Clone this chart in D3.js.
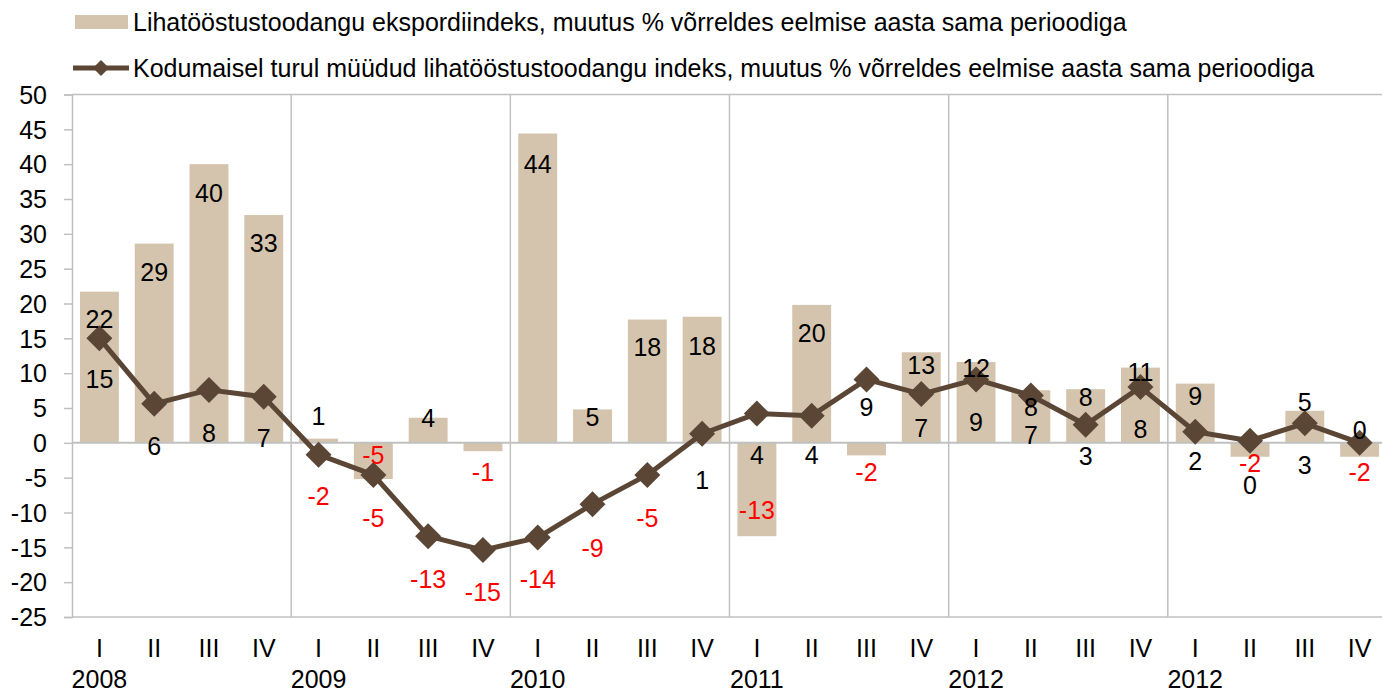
<!DOCTYPE html>
<html>
<head>
<meta charset="utf-8">
<script src="https://cdn.jsdelivr.net/npm/d3@7"></script>
<style>
  body { margin: 0; background: #fff; }
  svg { display: block; font-family: Arial, "Liberation Sans", sans-serif; }
</style>
</head>
<body>
<div id="chart"></div>
<script>
// andmed
var years = ["2008", "2009", "2010", "2011", "2012", "2012"];
var quarterNames = ["I", "II", "III", "IV"];
var exportIndex = [21.7, 28.6, 40.0, 32.7, 0.6, -5.2, 3.6, -1.2, 44.4, 4.8, 17.7, 18.1,
                   -13.4, 19.8, -1.8, 13.0, 11.6, 7.55, 7.7, 10.8, 8.5, -2.0, 4.6, -2.0];
var domesticIndex = [15.0, 5.6, 7.6, 6.6, -1.7, -4.6, -13.4, -15.4, -13.6, -8.8, -4.6, 1.3,
                     4.2, 3.9, 9.1, 7.0, 9.1, 6.8, 2.6, 8.0, 1.6, 0.3, 2.8, 0.0];
var yTicks = d3.range(-25, 51, 5);
var legendLabels = [
    "Lihatööstustoodangu ekspordiindeks, muutus % võrreldes eelmise aasta sama perioodiga",
    "Kodumaisel turul müüdud lihatööstustoodangu indeks, muutus % võrreldes eelmise aasta sama perioodiga"
];

// siltide nihked (px), nagu Excel need paigutas
var exportLabelDy = [28, 29, 29, 28, -22, -24, 0, 21, 31, 8, 28, 30,
                     -26, 28, 17, 13, 6, 17, 8, 5, 13, 6, -9, 15];
var domesticLabelDy = [41, 42, 43, 41, 42, 43, 43, 42, 42, 44, 43, 46,
                       42, 40, 28, 34, 43, 40, 32, 42, 30, 45, 42, -13];

var W = 1382, H = 690;
var pLeft = 72, pRight = 1387, pTop = 94.5, pBottom = 617;
var barColor = "#D5C4AD", lineColor = "#5B4636", gridColor = "#C0C0C0";
var fs = 25;

var n = exportIndex.length;
var x = d3.scaleBand().domain(d3.range(n)).range([pLeft, pRight]);
var bw = x.bandwidth() * 0.71;
var cx = function(i) { return x(i) + x.bandwidth() / 2; };
var y = d3.scaleLinear().domain([-25, 50]).range([pBottom, pTop]);

var fmt = function(v) {
    var r = Math.round(v);
    return r === 0 ? "0" : String(r);
};
var labelColor = function(v) { return Math.round(v) < 0 ? "#FF0000" : "#000"; };

var svg = d3.select("#chart").append("svg")
    .attr("width", W)
    .attr("height", H);

// raam ja jooned
svg.append("line")
    .attr("x1", pLeft).attr("x2", W).attr("y1", y(50)).attr("y2", y(50))
    .attr("stroke", gridColor).attr("stroke-width", 1.5);
svg.append("line")
    .attr("x1", pLeft).attr("x2", W).attr("y1", y(-25)).attr("y2", y(-25))
    .attr("stroke", gridColor).attr("stroke-width", 1.5);

svg.selectAll("line.sep")
    .data(d3.range(4, n, 4))
    .enter().append("line")
    .attr("class", "sep")
    .attr("x1", function(d) { return x(d); })
    .attr("x2", function(d) { return x(d); })
    .attr("y1", pTop).attr("y2", pBottom)
    .attr("stroke", gridColor).attr("stroke-width", 1.5);

// y telg
var yAxis = d3.axisLeft(y).tickValues(yTicks).tickSize(8)
    .tickFormat(function(d) { return String(d); });
var ya = svg.append("g")
    .attr("transform", "translate(" + pLeft + ",0)")
    .call(yAxis);
ya.select(".domain").attr("stroke", gridColor).attr("stroke-width", 1.5);
ya.selectAll(".tick line").attr("stroke", gridColor).attr("stroke-width", 1.5);
ya.selectAll(".tick text")
    .attr("font-size", fs).attr("fill", "#000")
    .attr("font-family", "Arial, 'Liberation Sans', sans-serif")
    .attr("x", -25).attr("dy", "0.35em");

// tulbad
svg.selectAll("rect.bar")
    .data(exportIndex)
    .enter().append("rect")
    .attr("class", "bar")
    .attr("x", function(d, i) { return cx(i) - bw / 2; })
    .attr("y", function(d) { return y(Math.max(0, d)); })
    .attr("width", bw)
    .attr("height", function(d) { return Math.abs(y(d) - y(0)); })
    .attr("fill", barColor);

// nulljoon
svg.append("line")
    .attr("x1", pLeft).attr("x2", W).attr("y1", y(0)).attr("y2", y(0))
    .attr("stroke", gridColor).attr("stroke-width", 2);

// joon
var line = d3.line()
    .x(function(d, i) { return cx(i); })
    .y(function(d) { return y(d); });

svg.append("path")
    .datum(domesticIndex)
    .attr("d", line)
    .attr("fill", "none")
    .attr("stroke", lineColor)
    .attr("stroke-width", 5)
    .attr("stroke-linejoin", "round");

var diamond = function(r) {
    return "M0," + (-r) + "L" + r + ",0L0," + r + "L" + (-r) + ",0Z";
};

svg.selectAll("path.marker")
    .data(domesticIndex)
    .enter().append("path")
    .attr("class", "marker")
    .attr("d", diamond(13))
    .attr("transform", function(d, i) { return "translate(" + cx(i) + "," + y(d) + ")"; })
    .attr("fill", lineColor);

// sildid
svg.selectAll("text.blabel")
    .data(exportIndex)
    .enter().append("text")
    .attr("class", "blabel")
    .attr("x", function(d, i) { return cx(i); })
    .attr("y", function(d, i) { return y(d) + exportLabelDy[i]; })
    .attr("dy", "0.35em")
    .attr("text-anchor", "middle")
    .attr("font-size", fs)
    .attr("fill", labelColor)
    .text(fmt);

svg.selectAll("text.llabel")
    .data(domesticIndex)
    .enter().append("text")
    .attr("class", "llabel")
    .attr("x", function(d, i) { return cx(i); })
    .attr("y", function(d, i) { return y(d) + domesticLabelDy[i]; })
    .attr("dy", "0.35em")
    .attr("text-anchor", "middle")
    .attr("font-size", fs)
    .attr("fill", labelColor)
    .text(fmt);

// x telje sildid
svg.selectAll("text.q")
    .data(d3.range(n))
    .enter().append("text")
    .attr("class", "q")
    .attr("x", function(i) { return cx(i); })
    .attr("y", 648)
    .attr("dy", "0.35em")
    .attr("text-anchor", "middle")
    .attr("font-size", fs)
    .text(function(i) { return quarterNames[i % 4]; });

svg.selectAll("text.yr")
    .data(years)
    .enter().append("text")
    .attr("class", "yr")
    .attr("x", function(d, j) { return cx(j * 4); })
    .attr("y", 679)
    .attr("dy", "0.35em")
    .attr("text-anchor", "middle")
    .attr("font-size", fs)
    .text(function(d) { return d; });

// legend
var lg = svg.append("g");
lg.append("rect")
    .attr("x", 75).attr("y", 15).attr("width", 53).attr("height", 14)
    .attr("fill", barColor);
lg.append("text")
    .attr("x", 133).attr("y", 22).attr("dy", "0.35em")
    .attr("font-size", fs)
    .text(legendLabels[0]);
lg.append("line")
    .attr("x1", 73).attr("x2", 129).attr("y1", 68).attr("y2", 68)
    .attr("stroke", lineColor).attr("stroke-width", 5);
lg.append("path")
    .attr("d", diamond(8))
    .attr("transform", "translate(101,68)")
    .attr("fill", lineColor);
lg.append("text")
    .attr("x", 133).attr("y", 68).attr("dy", "0.35em")
    .attr("font-size", fs)
    .text(legendLabels[1]);
</script>
</body>
</html>
